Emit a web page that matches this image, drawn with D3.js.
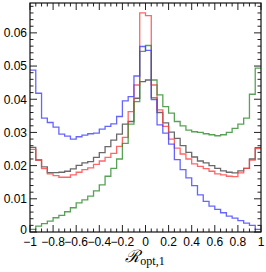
<!DOCTYPE html>
<html>
<head>
<meta charset="utf-8">
<script src="https://cdn.jsdelivr.net/npm/d3@7"></script>
<style>
  body { margin: 0; background: #fff; }
  text { font-family: "Liberation Sans", Arial, sans-serif; }
</style>
</head>
<body>
<div id="chart-area"></div>
<script>
// bin edges: 40 bins of width 0.05 from -1 to 1
var binLow = -1, binWidth = 0.05;

// bin contents
var blackVals = [0.0255, 0.0217, 0.0196, 0.0179, 0.0179, 0.0180, 0.0183, 0.0190, 0.0201, 0.0208,
                 0.0212, 0.0225, 0.0239, 0.0257, 0.0277, 0.0295, 0.0325, 0.0333, 0.0403, 0.0453,
                 0.0458, 0.0404, 0.0360, 0.0329, 0.0301, 0.0282, 0.0260, 0.0240, 0.0226, 0.0214,
                 0.0208, 0.0200, 0.0192, 0.0184, 0.0180, 0.0178, 0.0184, 0.0192, 0.0220, 0.0254];
var redVals = [0.0249, 0.0217, 0.0191, 0.0175, 0.0170, 0.0165, 0.0165, 0.0172, 0.0180, 0.0188,
               0.0193, 0.0204, 0.0214, 0.0225, 0.0237, 0.0258, 0.0285, 0.0363, 0.0443, 0.0660,
               0.0652, 0.0443, 0.0368, 0.0318, 0.0280, 0.0253, 0.0235, 0.0220, 0.0205, 0.0198,
               0.0191, 0.0183, 0.0175, 0.0172, 0.0168, 0.0167, 0.0178, 0.0192, 0.0217, 0.0251];
var greenVals = [0.0008, 0.0018, 0.0025, 0.0033, 0.0043, 0.0050, 0.0061, 0.0073, 0.0088, 0.0097,
                 0.0108, 0.0124, 0.0142, 0.0168, 0.0192, 0.0220, 0.0267, 0.0325, 0.0393, 0.0544,
                 0.0562, 0.0458, 0.0413, 0.0378, 0.0358, 0.0333, 0.0320, 0.0307, 0.0302, 0.0300,
                 0.0296, 0.0293, 0.0290, 0.0293, 0.0300, 0.0312, 0.0325, 0.0343, 0.0415, 0.0494];
var blueVals = [0.0488, 0.0418, 0.0343, 0.0330, 0.0316, 0.0295, 0.0289, 0.0280, 0.0287, 0.0292,
                0.0296, 0.0298, 0.0310, 0.0318, 0.0326, 0.0348, 0.0395, 0.0408, 0.0470, 0.0559,
                0.0547, 0.0399, 0.0323, 0.0298, 0.0265, 0.0218, 0.0188, 0.0163, 0.0140, 0.0112,
                0.0092, 0.0078, 0.0068, 0.0058, 0.0048, 0.0042, 0.0034, 0.0027, 0.0020, 0.0008];

var xTickVals = [-1, -0.8, -0.6, -0.4, -0.2, 0, 0.2, 0.4, 0.6, 0.8, 1];
var xTickLabels = ["\u22121", "\u22120.8", "\u22120.6", "\u22120.4", "\u22120.2", "0", "0.2", "0.4", "0.6", "0.8", "1"];
var yTickVals = [0, 0.01, 0.02, 0.03, 0.04, 0.05, 0.06];
var yTickLabels = ["0", "0.01", "0.02", "0.03", "0.04", "0.05", "0.06"];

var margin = {left: 30, right: 5, top: 3, bottom: 40};
var width = 266 - margin.left - margin.right,
    height = 272 - margin.top - margin.bottom;

var svg = d3.select("#chart-area")
    .append("svg")
    .attr("width", 266)
    .attr("height", 272);

var g = svg.append("g")
    .attr("transform", "translate(" + margin.left + "," + margin.top + ")");

var x = d3.scaleLinear().domain([-1, 1]).range([0, width]);
var y = d3.scaleLinear().domain([0, 0.069]).range([height, 0]);

// histogram outline as a step line
function stepPoints(vals) {
    var pts = vals.map(function (v, i) { return [binLow + i * binWidth, v]; });
    pts.push([binLow + vals.length * binWidth, vals[vals.length - 1]]);
    return pts;
}
var line = d3.line()
    .x(function (d) { return x(d[0]); })
    .y(function (d) { return y(d[1]); })
    .curve(d3.curveStepAfter);

var series = [
    {vals: blackVals, color: "#444444"},
    {vals: redVals, color: "#ff4040"},
    {vals: greenVals, color: "#2e8b2e"},
    {vals: blueVals, color: "#4040ff"}
];

g.selectAll(".hist")
    .data(series)
    .enter()
    .append("path")
    .attr("class", "hist")
    .attr("d", function (s) { return line(stepPoints(s.vals)); })
    .attr("fill", "none")
    .attr("stroke", function (s) { return s.color; })
    .attr("stroke-width", 1.3)
    .attr("stroke-opacity", 0.8);

// ticks on all four sides, pointing inwards
var xMinor = d3.range(-1, 1.0001, 0.05);
var yMinor = d3.range(0, 0.0691, 0.002);
var ticks = g.append("g").attr("stroke", "#222").attr("stroke-width", 1);

xMinor.forEach(function (v) {
    var major = xTickVals.some(function (t) { return Math.abs(t - v) < 1e-6; });
    var len = major ? 7 : 3.5;
    ticks.append("line").attr("x1", x(v)).attr("x2", x(v)).attr("y1", height).attr("y2", height - len);
    ticks.append("line").attr("x1", x(v)).attr("x2", x(v)).attr("y1", 0).attr("y2", len);
});
yMinor.forEach(function (v) {
    var major = yTickVals.some(function (t) { return Math.abs(t - v) < 1e-6; });
    var len = major ? 7 : 3.5;
    ticks.append("line").attr("x1", 0).attr("x2", len).attr("y1", y(v)).attr("y2", y(v));
    ticks.append("line").attr("x1", width).attr("x2", width - len).attr("y1", y(v)).attr("y2", y(v));
});

// frame
g.append("rect")
    .attr("x", 0).attr("y", 0)
    .attr("width", width).attr("height", height)
    .attr("fill", "none")
    .attr("stroke", "#111")
    .attr("stroke-width", 1.2);

// tick labels
g.selectAll(".ylab")
    .data(yTickVals)
    .enter()
    .append("text")
    .attr("class", "ylab")
    .attr("x", -3)
    .attr("y", function (d) { return y(d); })
    .attr("dy", function (d) { return d === 0 ? "0.2em" : "0.36em"; })
    .attr("text-anchor", "end")
    .attr("font-size", "12px")
    .text(function (d, i) { return yTickLabels[i]; });

g.selectAll(".xlab")
    .data(xTickVals)
    .enter()
    .append("text")
    .attr("class", "xlab")
    .attr("x", function (d) { return x(d); })
    .attr("y", height + 14)
    .attr("text-anchor", "middle")
    .attr("font-size", "12px")
    .text(function (d, i) { return xTickLabels[i]; });

// axis title
var title = g.append("text")
    .attr("x", width / 2 - 0.5)
    .attr("y", height + 30)
    .attr("text-anchor", "middle")
    .style("font-family", "'Liberation Serif', 'DejaVu Serif', serif");
title.append("tspan")
    .attr("font-size", "17px")
    .attr("font-style", "italic")
    .text("\u211B");
title.append("tspan")
    .attr("font-size", "12px")
    .attr("dy", 3)
    .text("opt,1");
</script>
</body>
</html>
